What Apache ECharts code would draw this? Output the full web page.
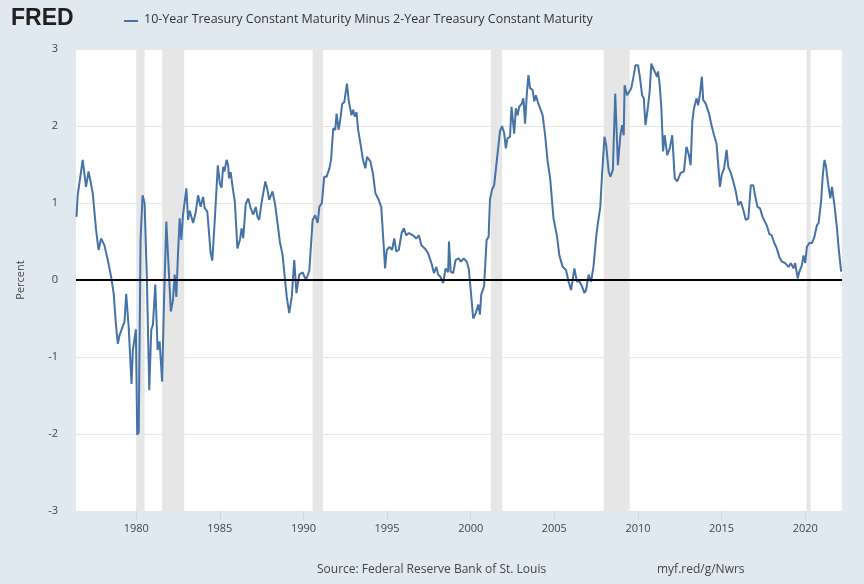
<!DOCTYPE html>
<html><head><meta charset="utf-8">
<script src="https://cdn.jsdelivr.net/npm/echarts@6/dist/echarts.min.js"></script>
<style>html,body{margin:0;padding:0;background:#e1e9f0;}#c{width:864px;height:584px;}</style>
</head><body><div id="c"></div>
<script>
const years = [1976.43,1976.5,1976.8,1977.0,1977.15,1977.4,1977.6,1977.75,1977.9,1978.1,1978.3,1978.5,1978.65,1978.8,1978.9,1979.0,1979.3,1979.4,1979.55,1979.72,1979.8,1979.98,1980.06,1980.15,1980.26,1980.38,1980.5,1980.64,1980.78,1980.9,1981.0,1981.14,1981.28,1981.4,1981.55,1981.67,1981.8,1981.93,1982.07,1982.2,1982.3,1982.4,1982.5,1982.6,1982.7,1982.8,1983.0,1983.1,1983.2,1983.4,1983.55,1983.7,1983.85,1984.0,1984.1,1984.25,1984.45,1984.55,1984.7,1984.88,1985.0,1985.1,1985.2,1985.28,1985.4,1985.5,1985.55,1985.65,1985.75,1985.9,1986.05,1986.2,1986.3,1986.4,1986.55,1986.7,1986.85,1987.0,1987.15,1987.25,1987.35,1987.5,1987.6,1987.72,1987.85,1987.95,1988.05,1988.15,1988.3,1988.45,1988.6,1988.75,1988.9,1989.0,1989.15,1989.3,1989.45,1989.58,1989.75,1989.95,1990.15,1990.35,1990.55,1990.7,1990.85,1990.95,1991.1,1991.24,1991.38,1991.55,1991.65,1991.78,1991.9,1991.98,1992.1,1992.2,1992.32,1992.44,1992.6,1992.7,1992.87,1992.97,1993.07,1993.17,1993.27,1993.4,1993.56,1993.7,1993.8,1994.0,1994.15,1994.3,1994.5,1994.65,1994.75,1994.88,1994.98,1995.15,1995.3,1995.43,1995.55,1995.7,1995.87,1996.0,1996.15,1996.3,1996.55,1996.75,1996.9,1997.05,1997.25,1997.45,1997.65,1997.8,1997.95,1998.05,1998.2,1998.35,1998.5,1998.65,1998.7,1998.8,1998.95,1999.1,1999.28,1999.42,1999.58,1999.76,1999.88,2000.0,2000.15,2000.3,2000.46,2000.55,2000.63,2000.8,2000.95,2001.07,2001.15,2001.27,2001.4,2001.5,2001.65,2001.75,2001.87,2002.0,2002.1,2002.2,2002.35,2002.44,2002.6,2002.7,2002.8,2002.9,2003.05,2003.15,2003.25,2003.35,2003.45,2003.55,2003.7,2003.8,2003.9,2004.0,2004.15,2004.3,2004.45,2004.6,2004.75,2004.85,2004.95,2005.15,2005.3,2005.5,2005.7,2005.85,2006.0,2006.2,2006.35,2006.5,2006.65,2006.8,2006.9,2007.05,2007.2,2007.35,2007.5,2007.62,2007.75,2007.85,2008.0,2008.1,2008.25,2008.35,2008.5,2008.64,2008.75,2008.8,2008.95,2009.05,2009.15,2009.2,2009.35,2009.45,2009.6,2009.75,2009.85,2010.0,2010.1,2010.25,2010.35,2010.45,2010.6,2010.7,2010.8,2010.95,2011.05,2011.15,2011.2,2011.3,2011.4,2011.5,2011.6,2011.75,2011.9,2012.05,2012.2,2012.35,2012.55,2012.75,2012.9,2013.05,2013.15,2013.25,2013.35,2013.5,2013.6,2013.7,2013.82,2013.9,2014.05,2014.25,2014.4,2014.55,2014.7,2014.8,2014.9,2015.0,2015.15,2015.3,2015.4,2015.55,2015.7,2015.85,2016.0,2016.15,2016.3,2016.45,2016.6,2016.75,2016.9,2017.0,2017.15,2017.3,2017.45,2017.55,2017.7,2017.85,2018.0,2018.15,2018.3,2018.45,2018.6,2018.8,2019.0,2019.15,2019.3,2019.4,2019.55,2019.65,2019.8,2019.9,2020.0,2020.1,2020.25,2020.4,2020.55,2020.7,2020.8,2020.95,2021.05,2021.15,2021.25,2021.35,2021.5,2021.6,2021.75,2021.9,2022.0,2022.15];
const spread = [0.82,1.10,1.56,1.21,1.41,1.13,0.65,0.39,0.54,0.45,0.26,0.04,-0.17,-0.61,-0.83,-0.72,-0.54,-0.18,-0.61,-1.35,-0.91,-0.64,-2.01,-1.98,0.52,1.10,1.0,0.0,-1.43,-0.65,-0.58,-0.06,-0.91,-0.8,-1.32,-0.22,0.76,0.2,-0.41,-0.26,0.07,-0.22,0.35,0.8,0.52,0.85,1.19,0.78,0.9,0.74,0.87,1.10,0.95,1.08,0.93,0.89,0.35,0.25,0.79,1.49,1.25,1.2,1.47,1.41,1.56,1.49,1.32,1.4,1.23,1.01,0.41,0.52,0.67,0.54,0.99,1.06,0.93,0.85,0.95,0.82,0.78,1.01,1.01,1.28,1.17,1.04,1.04,1.15,0.99,0.74,0.48,0.33,0.0,-0.22,-0.43,-0.22,0.26,-0.17,0.07,0.1,0.0,0.12,0.78,0.84,0.74,0.95,1.0,1.34,1.34,1.45,1.56,1.97,1.95,2.16,1.95,2.08,2.29,2.31,2.55,2.34,2.14,2.21,2.12,2.18,1.95,1.78,1.56,1.45,1.6,1.54,1.39,1.13,1.04,0.95,0.61,0.15,0.39,0.43,0.39,0.54,0.37,0.39,0.61,0.67,0.58,0.61,0.58,0.54,0.58,0.45,0.41,0.35,0.22,0.09,0.17,0.07,0.04,-0.04,0.15,0.1,0.5,0.11,0.09,0.26,0.28,0.24,0.28,0.24,0.15,-0.13,-0.5,-0.43,-0.32,-0.45,-0.19,-0.08,0.52,0.56,1.04,1.17,1.23,1.21,1.73,1.93,2.0,1.91,1.71,1.84,1.86,2.25,1.9,2.23,2.14,2.25,2.29,2.36,2.03,2.4,2.66,2.49,2.47,2.32,2.4,2.32,2.23,2.14,1.88,1.54,1.32,1.06,0.8,0.58,0.32,0.17,0.13,-0.02,-0.13,0.15,-0.02,-0.02,-0.08,-0.17,-0.13,0.07,-0.02,0.19,0.56,0.76,0.95,1.36,1.86,1.75,1.41,1.34,1.43,2.42,1.8,1.49,1.88,2.01,1.88,2.53,2.4,2.38,2.49,2.66,2.79,2.79,2.66,2.4,2.36,2.01,2.25,2.45,2.81,2.73,2.73,2.64,2.71,2.53,2.23,1.67,1.88,1.62,1.71,1.88,1.32,1.28,1.39,1.41,1.73,1.62,1.49,2.06,2.23,2.36,2.27,2.4,2.64,2.34,2.29,2.16,2.01,1.88,1.77,1.49,1.21,1.36,1.45,1.69,1.47,1.39,1.28,1.15,0.97,1.02,0.91,0.78,0.8,1.23,1.23,1.1,0.95,0.93,0.82,0.82,0.71,0.6,0.58,0.48,0.41,0.3,0.24,0.22,0.17,0.22,0.15,0.22,0.02,0.11,0.19,0.32,0.22,0.43,0.48,0.48,0.56,0.71,0.74,1.02,1.36,1.56,1.47,1.28,1.06,1.21,0.97,0.67,0.41,0.11];
const recessions = [[1980.0,1980.5],[1981.55,1982.87],[1990.55,1991.17],[2001.2,2001.87],[2007.95,2009.5],[2020.08,2020.33]];
const tickYears = [1980,1985,1990,1995,2000,2005,2010,2015,2020];
const seriesName = '10-Year Treasury Constant Maturity Minus 2-Year Treasury Constant Maturity';

const chart = echarts.init(document.getElementById('c'));
const font = '"Open Sans", "DejaVu Sans", sans-serif';
chart.setOption({
  backgroundColor: '#e1e9f0',
  animation: false,
  textStyle: {fontFamily: font},
  graphic: [
    {type:'text', left:11, top:7, style:{text:'FRED', font:'900 23px "Liberation Sans", "DejaVu Sans", sans-serif', fill:'#231f20'}},
    {type:'line', shape:{x1:124,y1:21,x2:138,y2:21}, style:{stroke:'#4572a7', lineWidth:2}},
    {type:'text', left:144, top:13, style:{text:seriesName, font:'12.5px '+font, fill:'#333'}},
    {type:'text', left:317, top:564, style:{text:'Source: Federal Reserve Bank of St. Louis', font:'12px '+font, fill:'#444'}},
    {type:'text', left:657, top:564, style:{text:'myf.red/g/Nwrs', font:'12px '+font, fill:'#444'}}
  ],
  grid: {left:76, right:22, top:49, bottom:73, show:true, backgroundColor:'#fff', borderWidth:0},
  xAxis: {
    type:'value', min:1976.4, max:2022.2,
    axisLine:{show:false, onZero:false}, splitLine:{show:false},
    axisTick:{show:true, customValues:tickYears, length:8, lineStyle:{color:'#ccd6eb'}},
    axisLabel:{customValues:tickYears, color:'#444', fontSize:11, margin:12, formatter:v=>String(Math.round(v))}
  },
  yAxis: {
    type:'value', min:-3, max:3, interval:1, name:'Percent', nameLocation:'middle', nameGap:50,
    nameTextStyle:{color:'#444', fontSize:11},
    axisLine:{show:false}, axisTick:{show:false},
    axisLabel:{color:'#444', fontSize:11, margin:18},
    splitLine:{lineStyle:{color:'#e6e6e6'}}
  },
  series: [{
    type:'line', name:seriesName, showSymbol:false,
    data: years.map((y,i)=>[y, spread[i]]),
    lineStyle:{color:'#4572a7', width:2}, itemStyle:{color:'#4572a7'},
    markArea:{silent:true, itemStyle:{color:'#e6e6e6'}, data: recessions.map(r=>[{xAxis:r[0]},{xAxis:r[1]}])},
    markLine:{silent:true, symbol:'none', label:{show:false}, lineStyle:{color:'#000', width:2, type:'solid'}, data:[{yAxis:0}]}
  }]
});
</script></body></html>
